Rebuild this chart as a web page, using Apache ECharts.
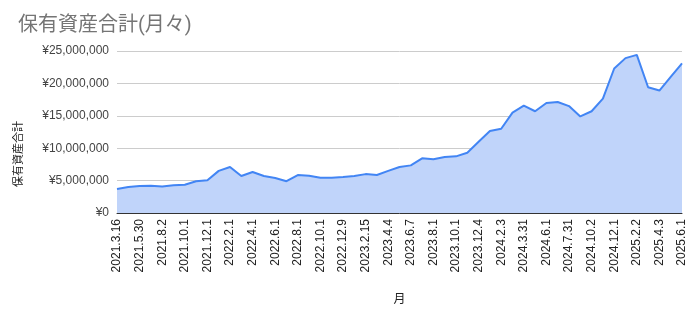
<!DOCTYPE html>
<html><head><meta charset="utf-8">
<script src="https://cdn.jsdelivr.net/npm/echarts@6/dist/echarts.min.js"></script>
<style>html,body{margin:0;padding:0;background:#fff}#c{width:696px;height:318px}</style>
</head><body><div id="c"></div>
<script>
// Labelled dates (every other data point carries a label)
const labeledDates = ['2021.3.16','2021.5.30','2021.8.2','2021.10.1','2021.12.1','2022.2.1','2022.4.1','2022.6.1','2022.8.1','2022.10.1','2022.12.9','2023.2.15','2023.4.4','2023.6.7','2023.8.1','2023.10.1','2023.12.4','2024.2.3','2024.3.31','2024.6.1','2024.7.31','2024.10.2','2024.12.1','2025.2.2','2025.4.3','2025.6.1'];
// Monthly totals (yen)
const totals = [3700000,4000000,4170000,4200000,4100000,4300000,4370000,4900000,5040000,6500000,
  7100000,5700000,6330000,5700000,5400000,4900000,5860000,5760000,5450000,5450000,
  5550000,5700000,6000000,5860000,6500000,7100000,7350000,8440000,8280000,8640000,
  8740000,9300000,11000000,12650000,13000000,15500000,16560000,15700000,16970000,17130000,
  16500000,14900000,15700000,17650000,22300000,23900000,24400000,19400000,18900000,21000000,23100000];
const yTicks = [0,5000000,10000000,15000000,20000000,25000000];

const categories = [];
for (let i = 0; i < totals.length; i++) categories.push(i % 2 === 0 ? labeledDates[i/2] : '');

const chart = echarts.init(document.getElementById('c'), null, {renderer:'canvas'});
chart.setOption({
  animation:false,
  title:{text:'保有資産合計(月々)', left:13, top:11,
    textStyle:{fontSize:20, fontWeight:'normal', color:'#757575', fontFamily:'Roboto, "Noto Sans CJK JP", sans-serif'}},
  grid:{left:117, right:14, top:51, bottom:105},
  xAxis:{type:'category', data:categories, boundaryGap:false,
    name:'月', nameLocation:'middle', nameGap:79,
    nameTextStyle:{fontSize:12, color:'#222', fontFamily:'"Noto Sans CJK JP", sans-serif'},
    axisLine:{lineStyle:{color:'#333', width:1}}, axisTick:{show:false},
    axisLabel:{interval:1, rotate:90, fontSize:12, color:'#222', margin:6, fontFamily:'"Liberation Sans", Arial, sans-serif'}},
  yAxis:{type:'value', min:yTicks[0], max:yTicks[yTicks.length-1], interval:5000000,
    axisLine:{show:false}, axisTick:{show:false},
    splitLine:{lineStyle:{color:'#cccccc'}},
    axisLabel:{fontSize:12, color:'#444', margin:8, fontFamily:'"Liberation Sans", Arial, sans-serif',
      formatter:v=>'¥'+v.toLocaleString('en-US')}},
  graphic:[{type:'text', x:18, y:154, rotation:Math.PI/2,
    style:{text:'保有資産合計', fontSize:11, fill:'#222', align:'center', verticalAlign:'middle', fontFamily:'"Noto Sans CJK JP", sans-serif'}}],
  series:[{type:'line', data:totals, symbol:'none',
    lineStyle:{color:'#4285f4', width:2},
    areaStyle:{color:'#c0d4fa', opacity:1}}]
});
</script></body></html>
